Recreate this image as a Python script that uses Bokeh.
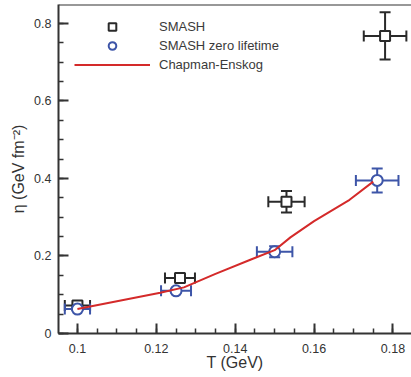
from bokeh.plotting import figure
from bokeh.models import (ColumnDataSource, Whisker, TeeHead, FixedTicker, CustomJSTickFormatter,
                          Legend, LegendItem, Span, Range1d)
from bokeh.embed import file_html
from bokeh.resources import INLINE

# ---- data ----
T_smash = [0.100, 0.126, 0.153, 0.178]
eta_smash = [0.072, 0.143, 0.340, 0.768]
T_err_smash = [0.0032, 0.0038, 0.0046, 0.0054]
eta_err_smash = [0.004, 0.005, 0.028, 0.061]

T_zero = [0.100, 0.125, 0.150, 0.176]
eta_zero = [0.063, 0.110, 0.211, 0.395]
T_err_zero = [0.0032, 0.0038, 0.0045, 0.0054]
eta_err_zero = [0.004, 0.005, 0.014, 0.031]

T_ce = [0.100, 0.121, 0.127, 0.135, 0.144, 0.150, 0.154, 0.160, 0.169, 0.175]
eta_ce = [0.063, 0.105, 0.119, 0.154, 0.191, 0.215, 0.248, 0.290, 0.345, 0.392]

x_ticks = [0.10, 0.12, 0.14, 0.16, 0.18]
y_ticks = [0.0, 0.2, 0.4, 0.6, 0.8]
x_minor = [0.095 + 0.005 * i for i in range(19)]
y_minor = [0.05 * i for i in range(17)]

FONT = "Liberation Sans"
BLACK = "#2a2a2a"
BLUE = "#3d55a8"
RED = "#d42a2a"
AX = "#333333"

Y_TOP = 0.849

p = figure(width=411, height=377, output_backend="svg", toolbar_location=None,
           x_range=Range1d(0.0952, 0.1847), y_range=Range1d(0.0, Y_TOP),
           min_border_left=58, min_border_right=0, min_border_top=4, min_border_bottom=44)
p.outline_line_color = None
p.grid.grid_line_color = None
p.background_fill_color = "white"

def mk_src(T, eta, Terr, etaerr):
    return ColumnDataSource(dict(
        x=T, y=eta,
        xl=[a - b for a, b in zip(T, Terr)], xu=[a + b for a, b in zip(T, Terr)],
        yl=[a - b for a, b in zip(eta, etaerr)], yu=[a + b for a, b in zip(eta, etaerr)]))

s_smash = mk_src(T_smash, eta_smash, T_err_smash, eta_err_smash)
s_zero = mk_src(T_zero, eta_zero, T_err_zero, eta_err_zero)

for src, col in [(s_smash, BLACK), (s_zero, BLUE)]:
    for dim, base, lo, up in [("width", "y", "xl", "xu"), ("height", "x", "yl", "yu")]:
        w = Whisker(source=src, base=base, lower=lo, upper=up, dimension=dim,
                    line_color=col, line_width=2,
                    upper_head=TeeHead(size=11, line_color=col, line_width=2),
                    lower_head=TeeHead(size=11, line_color=col, line_width=2))
        p.add_layout(w)

r_sq = p.scatter("x", "y", source=s_smash, marker="square", size=10,
                 fill_color="white", line_color=BLACK, line_width=2)
r_ci = p.scatter("x", "y", source=s_zero, marker="circle", size=11,
                 fill_color="white", line_color=BLUE, line_width=2)
r_ln = p.line(T_ce, eta_ce, line_color=RED, line_width=2)

fmt = CustomJSTickFormatter(code="return String(Number(tick.toFixed(3)));")

for ax, ticks, minor in [(p.xaxis[0], x_ticks, x_minor), (p.yaxis[0], y_ticks, y_minor)]:
    ax.ticker = FixedTicker(ticks=ticks, minor_ticks=minor)
    ax.formatter = fmt
    ax.axis_line_color = AX
    ax.axis_line_width = 2
    ax.major_tick_line_color = AX
    ax.major_tick_line_width = 2
    ax.minor_tick_line_color = AX
    ax.minor_tick_line_width = 1.5
    ax.major_tick_in = 10
    ax.major_tick_out = 0
    ax.minor_tick_in = 5
    ax.minor_tick_out = 0
    ax.major_label_text_font = FONT
    ax.major_label_text_font_size = "12.5px"
    ax.major_label_text_color = AX
    ax.axis_label_text_font = FONT
    ax.axis_label_text_font_size = "16px"
    ax.axis_label_text_font_style = "normal"
    ax.axis_label_text_color = AX

p.xaxis.axis_label = "T (GeV)"
p.xaxis.major_label_standoff = 10
p.xaxis.axis_label_standoff = -2
p.yaxis.axis_label = "η (GeV fm⁻²)"
p.yaxis.major_label_standoff = 7
p.yaxis.axis_label_standoff = 4

top = Span(location=Y_TOP, dimension="width", line_color=AX, line_width=2)
p.add_layout(top)

legend = Legend(items=[LegendItem(label="SMASH", renderers=[r_sq]),
                       LegendItem(label="SMASH zero lifetime", renderers=[r_ci]),
                       LegendItem(label="Chapman-Enskog", renderers=[r_ln])],
                location=(16, 259), orientation="vertical",
                glyph_width=76, glyph_height=19, label_height=19, label_standoff=9,
                spacing=0, padding=0, margin=0,
                border_line_color=None, background_fill_alpha=0,
                label_text_font=FONT, label_text_font_size="13px", label_text_color="#3a3a3a")
p.add_layout(legend)

open("out.html", "w").write(file_html(p, INLINE))
